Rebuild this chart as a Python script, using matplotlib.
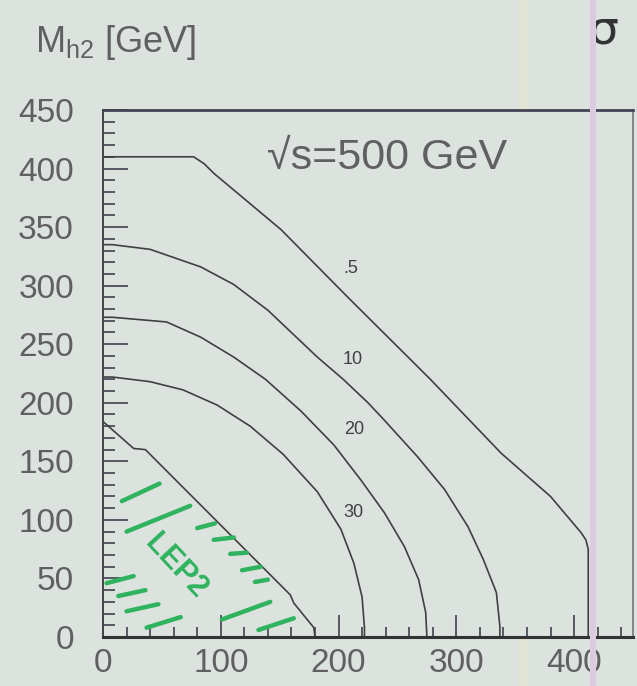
import numpy as np
import matplotlib
matplotlib.use("Agg")
from matplotlib import pyplot as plt
from matplotlib.patches import Rectangle

plt.rcParams['font.family'] = ['Liberation Sans', 'DejaVu Sans']
plt.rcParams['mathtext.fontset'] = 'custom'
plt.rcParams['mathtext.rm'] = 'Liberation Sans'

BG = '#dce2de'
INK = '#404040'
TXT = '#606060'
GREEN = '#2fb35e'

# contour lines (y = M_h2 [GeV])
curve_05_x = [0, 40, 77, 86, 94, 151, 208, 264, 278, 338, 380, 406, 410, 412, 412]
curve_05_y = [410, 410, 410, 404, 396, 348, 290, 234, 220, 157, 120, 89, 83, 75, 0]

curve_10_x = [0, 8, 40, 83, 111, 140, 182, 204, 225, 239, 267, 290, 310, 323, 334, 337, 337]
curve_10_y = [335, 335, 331, 316, 301, 279, 239, 220, 200, 185, 154, 126, 94, 66, 38, 9, 0]

curve_20_x = [0, 8, 54, 83, 111, 138, 168, 196, 219, 239, 256, 268, 274, 275]
curve_20_y = [273, 273, 269, 256, 239, 220, 193, 164, 134, 106, 77, 49, 21, 0]

curve_30_x = [0, 8, 40, 68, 97, 125, 153, 182, 202, 213, 220, 222, 222]
curve_30_y = [222, 222, 218, 211, 198, 180, 156, 124, 92, 63, 34, 8, 0]

curve_x = [curve_05_x, curve_10_x, curve_20_x, curve_30_x]
curve_y = [curve_05_y, curve_10_y, curve_20_y, curve_30_y]
level_labels = ['.5', '10', '20', '30']
label_x = [210, 212, 213, 213]
label_y = [315, 237, 177, 106]

# excluded region boundary (LEP2)
lep_x = [0, 26, 36, 159, 162, 179, 180]
lep_y = [184, 161, 160, 36, 29, 8, 0]

# hand drawn green hatch strokes: x0, y0, x1, y1
strokes = [
    (16, 116, 48, 131),
    (20, 90, 74, 112),
    (3, 46, 26, 52),
    (13, 35, 36, 40),
    (20, 22, 47, 28),
    (37, 8, 66, 17),
    (80, 93, 95, 97),
    (94, 83, 111, 85),
    (108, 71, 122, 72),
    (118, 57, 134, 60),
    (129, 47, 140, 49),
    (101, 15, 142, 30),
    (132, 6, 162, 16),
]

fig = plt.figure(figsize=(6.37, 6.86), dpi=100, facecolor=BG)
ax = fig.add_axes([0.1617, 0.0714, 0.832, 0.7683])
ax.set_facecolor(BG)

# scanner streaks
fig.add_artist(Rectangle((518 / 637, 0), 10 / 637, 1, transform=fig.transFigure,
                         color='#e1e4d3', lw=0, zorder=0))
fig.add_artist(Rectangle((590 / 637, 0), 6 / 637, 1, transform=fig.transFigure,
                         color='#dccbe0', lw=0, zorder=5))

for cx, cy in zip(curve_x, curve_y):
    ax.plot(cx, cy, color=INK, lw=1.2)
for lab, lx, ly in zip(level_labels, label_x, label_y):
    ax.text(lx, ly, lab, fontsize=13, color=INK, ha='center', va='center')

ax.plot(lep_x, lep_y, color=INK, lw=1.2)
for x0, y0, x1, y1 in strokes:
    ax.plot([x0, x1], [y0, y1], color=GREEN, lw=3.2, solid_capstyle='round')
ax.text(62, 60, 'LEP2', color=GREEN, fontsize=22, fontweight='bold',
        rotation=-47, ha='center', va='center')

ax.text(241, 409, '√s=500 GeV', fontsize=31, color=TXT, ha='center', va='center')

ax.set_xlim(0, 450)
ax.set_ylim(0, 450)
ax.set_xticks(np.arange(0, 401, 100))
ax.set_xticks(np.arange(0, 451, 20), minor=True)
ax.set_yticks(np.arange(0, 451, 50))
ax.set_yticks(np.arange(0, 451, 10), minor=True)
ax.tick_params(axis='both', which='both', direction='in', color='#333344',
               width=1.1, labelcolor=TXT, labelsize=24)
ax.tick_params(axis='x', which='major', length=16, pad=8)
ax.tick_params(axis='x', which='minor', length=7)
ax.tick_params(axis='y', which='major', length=18, pad=21)
ax.tick_params(axis='y', which='minor', length=8.5)

ax.spines['bottom'].set_linewidth(2.2)
ax.spines['bottom'].set_color('#333333')
ax.spines['top'].set_linewidth(2.0)
ax.spines['top'].set_color('#444455')
ax.spines['left'].set_linewidth(1.4)
ax.spines['left'].set_color('#444444')
ax.spines['right'].set_linewidth(1.2)
ax.spines['right'].set_color('#777777')

fig.text(35 / 637, 1 - 52 / 686, r'M$_{\mathrm{h2}}$ [GeV]', fontsize=26, color=TXT,
         ha='left', va='baseline')
fig.text(603 / 637, 1 - 31 / 686, 'σ', fontsize=34, color='#333333',
         family=['DejaVu Sans'], ha='center', va='center')

fig.savefig('out.png', dpi=100, facecolor=BG)
